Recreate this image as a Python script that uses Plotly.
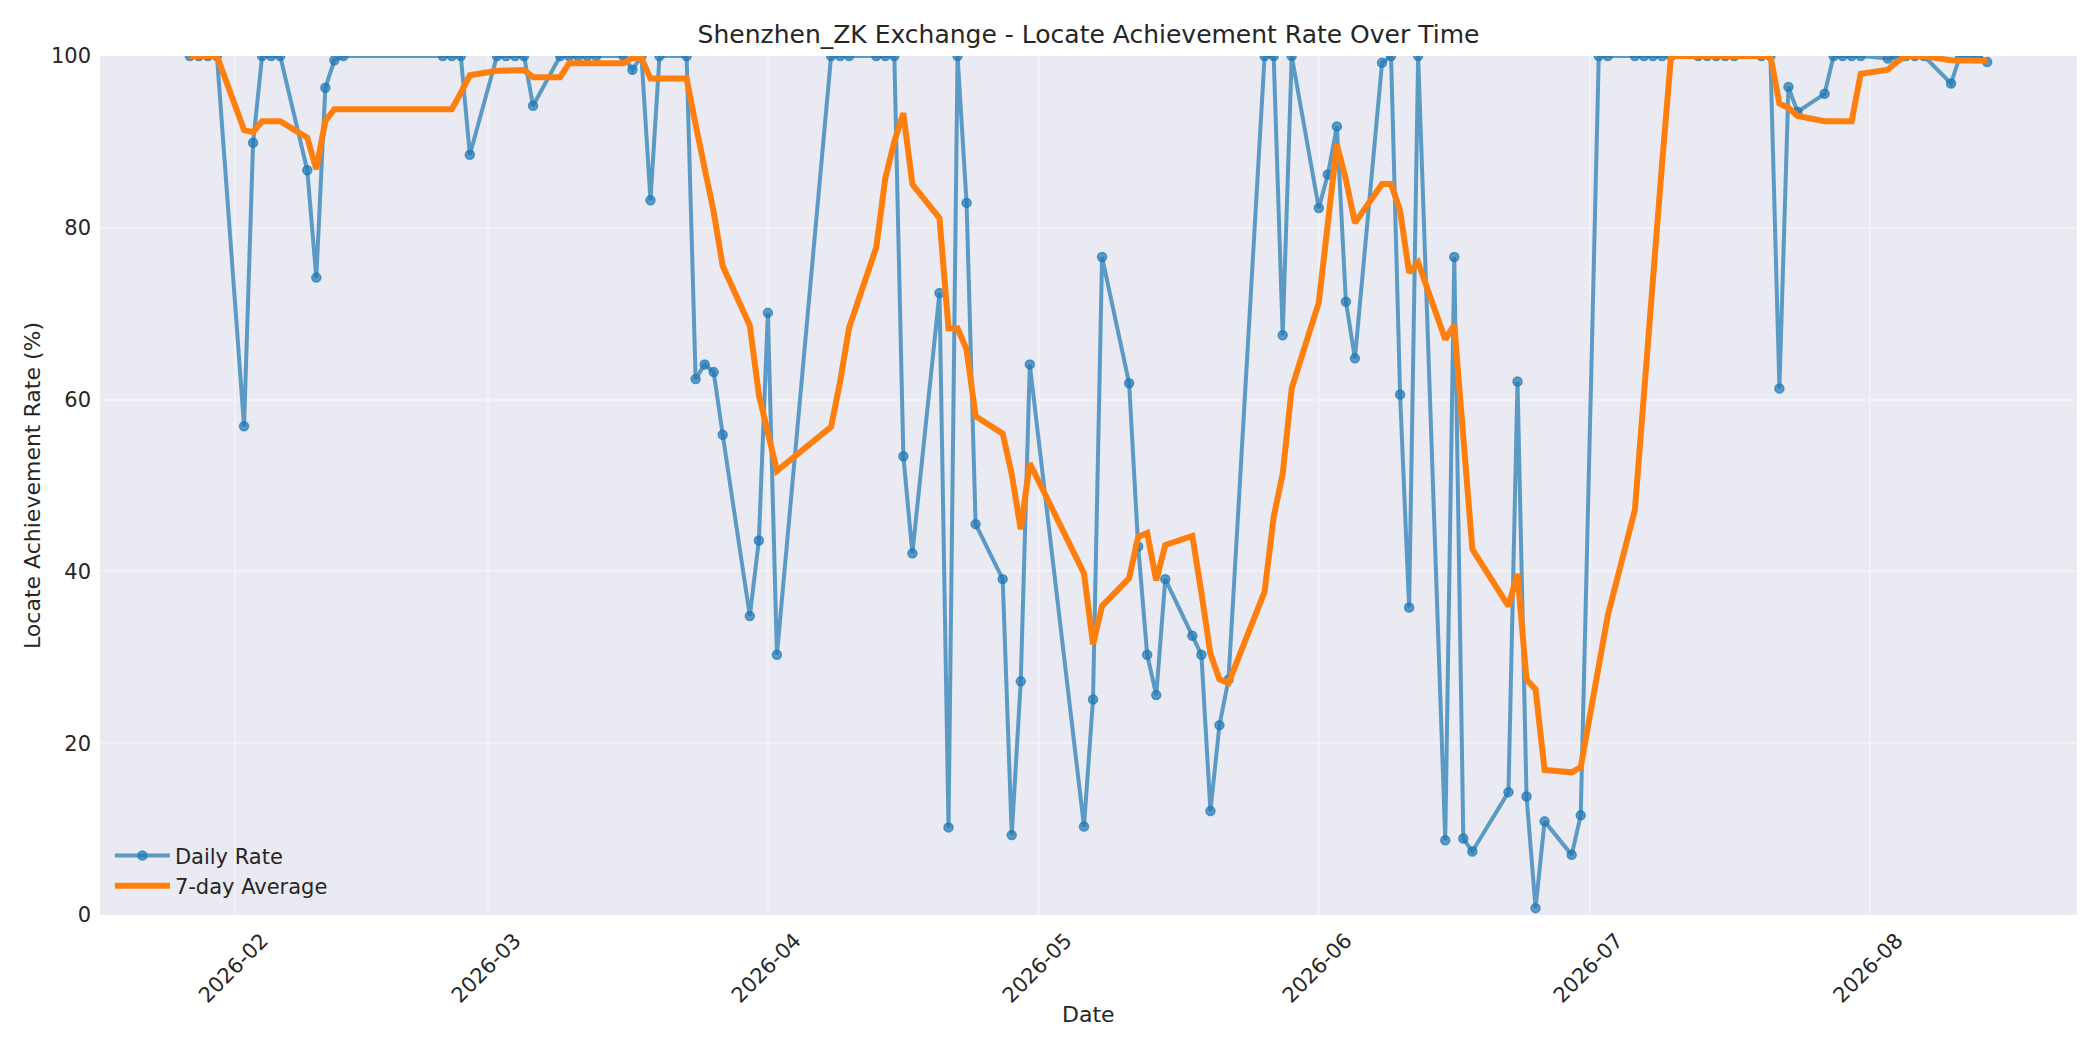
import plotly.graph_objects as go
from datetime import datetime

# ---- data ----
dates = [
    "2026-01-27", "2026-01-28", "2026-01-29", "2026-01-30",
    "2026-02-02", "2026-02-03", "2026-02-04", "2026-02-05", "2026-02-06",
    "2026-02-09", "2026-02-10", "2026-02-11", "2026-02-12", "2026-02-13",
    "2026-02-24", "2026-02-25", "2026-02-26", "2026-02-27",
    "2026-03-02", "2026-03-03", "2026-03-04", "2026-03-05", "2026-03-06",
    "2026-03-09", "2026-03-10", "2026-03-11", "2026-03-12", "2026-03-13",
    "2026-03-16", "2026-03-17", "2026-03-18", "2026-03-19", "2026-03-20",
    "2026-03-23", "2026-03-24", "2026-03-25", "2026-03-26", "2026-03-27",
    "2026-03-30", "2026-03-31",
    "2026-04-01", "2026-04-02", "2026-04-08", "2026-04-09", "2026-04-10",
    "2026-04-13", "2026-04-14", "2026-04-15", "2026-04-16", "2026-04-17",
    "2026-04-20", "2026-04-21", "2026-04-22", "2026-04-23", "2026-04-24",
    "2026-04-27", "2026-04-28", "2026-04-29", "2026-04-30",
    "2026-05-06", "2026-05-07", "2026-05-08",
    "2026-05-11", "2026-05-12", "2026-05-13", "2026-05-14", "2026-05-15",
    "2026-05-18", "2026-05-19", "2026-05-20", "2026-05-21", "2026-05-22",
    "2026-05-26", "2026-05-27", "2026-05-28", "2026-05-29",
    "2026-06-01", "2026-06-02", "2026-06-03", "2026-06-04", "2026-06-05",
    "2026-06-08", "2026-06-09", "2026-06-10", "2026-06-11", "2026-06-12",
    "2026-06-15", "2026-06-16", "2026-06-17", "2026-06-18",
    "2026-06-22", "2026-06-23", "2026-06-24", "2026-06-25", "2026-06-26",
    "2026-06-29", "2026-06-30",
    "2026-07-02", "2026-07-03",
    "2026-07-06", "2026-07-07", "2026-07-08", "2026-07-09", "2026-07-10",
    "2026-07-13", "2026-07-14", "2026-07-15", "2026-07-16", "2026-07-17",
    "2026-07-20", "2026-07-21", "2026-07-22", "2026-07-23", "2026-07-24",
    "2026-07-27", "2026-07-28", "2026-07-29", "2026-07-30", "2026-07-31",
    "2026-08-03", "2026-08-04", "2026-08-05", "2026-08-06", "2026-08-07",
    "2026-08-10", "2026-08-11", "2026-08-12", "2026-08-13", "2026-08-14",
]

daily_rate = [
    100, 100, 100, 100,
    56.9, 89.9, 100, 100, 100,
    86.7, 74.2, 96.3, 99.5, 100,
    100, 100, 100, 88.5,
    100, 100, 100, 100, 94.2,
    100, 100, 100, 100, 100,
    100, 98.4, 100, 83.2, 100,
    100, 62.4, 64.1, 63.2, 55.9,
    34.8, 43.6,
    70.1, 30.3, 100, 100, 100,
    100, 100, 100, 53.4, 42.1,
    72.4, 10.2, 100, 82.9, 45.5,
    39.1, 9.3, 27.2, 64.1,
    10.3, 25.1, 76.6,
    61.9, 42.9, 30.3, 25.6, 39.1,
    32.5, 30.3, 12.1, 22.1, 27.4,
    100, 100, 67.5, 100,
    82.3, 86.2, 91.8, 71.4, 64.8,
    99.2, 100, 60.6, 35.8, 100,
    8.7, 76.6, 8.9, 7.4,
    14.3, 62.1, 13.8, 0.8, 10.9,
    7.0, 11.6,
    100, 100,
    100, 100, 100, 100, 100,
    100, 100, 100, 100, 100,
    100, 100, 61.3, 96.4, 93.5,
    95.6, 100, 100, 100, 100,
    99.7, 100, 100, 100, 100,
    96.8, 100, 100, 100, 99.3,
]

avg_7day = [
    100, 100, 100, 100,
    91.38, 91.13, 92.40, 92.40, 92.40,
    90.50, 86.81, 92.44, 93.81, 93.81,
    93.81, 93.81, 95.71, 97.76,
    98.29, 98.36, 98.36, 98.36, 97.53,
    97.53, 99.17, 99.17, 99.17, 99.17,
    99.17, 99.77, 99.77, 97.37, 97.37,
    97.37, 92.00, 86.87, 81.84, 75.54,
    68.63, 60.57,
    56.30, 51.71, 56.84, 62.10, 68.40,
    77.71, 85.77, 90.04, 93.34, 85.07,
    81.13, 68.30, 68.30, 65.86, 58.07,
    56.03, 51.34, 44.89, 52.59,
    39.77, 31.51, 35.96,
    39.21, 44.01, 44.46, 38.96, 43.07,
    44.13, 37.51, 30.40, 27.43, 27.01,
    37.64, 46.34, 51.34, 61.30,
    71.33, 80.49, 89.69, 85.60, 80.57,
    85.10, 85.10, 82.00, 74.80, 75.97,
    67.01, 68.70, 55.80, 42.57,
    35.96, 39.71, 27.40, 26.27, 16.89,
    16.61, 17.21,
    29.46, 34.87,
    47.19, 61.36, 74.09, 87.37, 100,
    100, 100, 100, 100, 100,
    100, 100, 94.47, 93.96, 93.03,
    92.40, 92.40, 92.40, 92.40, 97.93,
    98.40, 99.33, 99.96, 99.96, 99.96,
    99.50, 99.50, 99.54, 99.54, 99.44,
]

month_ticks = ["2026-02-01", "2026-03-01", "2026-04-01", "2026-05-01",
               "2026-06-01", "2026-07-01", "2026-08-01"]
month_labels = ["2026-02", "2026-03", "2026-04", "2026-05",
                "2026-06", "2026-07", "2026-08"]
y_ticks = [0, 20, 40, 60, 80, 100]

# ---- styling ----
TEXT = "#262626"
FONT = "DejaVu Sans"
BLUE = "rgba(31,119,180,0.7)"
ORANGE = "#ff7f0e"
GRID = "#F1F1F6"

d0 = datetime.fromisoformat(dates[0])
d1 = datetime.fromisoformat(dates[-1])
pad = (d1 - d0) * 0.05
x_range = [(d0 - pad).isoformat(), (d1 + pad).isoformat()]

fig = go.Figure()
fig.add_trace(go.Scatter(
    x=dates, y=daily_rate, mode="lines+markers", name="Daily Rate",
    line=dict(color=BLUE, width=4),
    marker=dict(symbol="circle", size=9, color=BLUE,
                line=dict(width=1.5, color=BLUE)),
))
fig.add_trace(go.Scatter(
    x=dates, y=avg_7day, mode="lines", name="7-day Average",
    line=dict(color=ORANGE, width=6),
))

fig.update_layout(
    width=2100, height=1050,
    margin=dict(l=100, r=23, t=56, b=135, autoexpand=False),
    paper_bgcolor="white", plot_bgcolor="#EAEAF2",
    font=dict(family=FONT, color=TEXT, size=21),
    title=dict(text="Shenzhen_ZK Exchange - Locate Achievement Rate Over Time",
               x=0.5, xref="paper", xanchor="center",
               y=1 - 34 / 1050, yref="container", yanchor="middle",
               font=dict(size=25, color=TEXT)),
    showlegend=True,
    legend=dict(x=0.005, y=0.010, xanchor="left", yanchor="bottom",
                bgcolor="rgba(0,0,0,0)", borderwidth=0, itemwidth=55,
                font=dict(size=21, color=TEXT), tracegroupgap=0),
    annotations=[dict(text="Date", xref="paper", yref="paper",
                      x=0.5, y=-0.1155, xanchor="center", yanchor="middle",
                      showarrow=False, font=dict(size=22, color=TEXT))],
)
fig.update_xaxes(
    type="date", range=x_range,
    tickmode="array", tickvals=month_ticks, ticktext=month_labels,
    tickangle=-45, ticklabelshift=27, ticklabelstandoff=8,
    showgrid=True, gridcolor=GRID, gridwidth=1.5,
    zeroline=False, showline=False, ticks="",
    tickfont=dict(size=21, color=TEXT),
)
fig.update_yaxes(
    range=[0, 100], tickmode="array", tickvals=y_ticks,
    showgrid=True, gridcolor=GRID, gridwidth=1.5,
    zeroline=False, showline=False, ticks="", ticklabelstandoff=8,
    tickfont=dict(size=21, color=TEXT),
    title=dict(text="Locate Achievement Rate (%)",
               font=dict(size=22, color=TEXT), standoff=4),
)

fig.write_html("out.html", config={"displayModeBar": False},
               post_script="document.body.style.margin='0';document.body.style.overflow='hidden';")
